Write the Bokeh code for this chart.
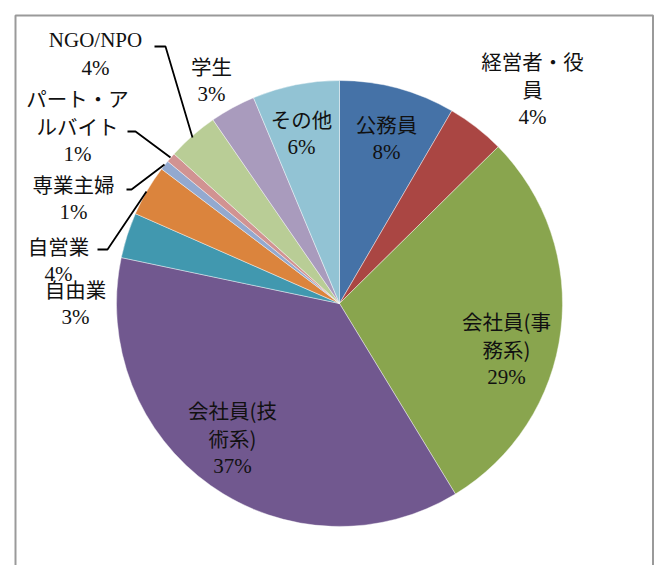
import numpy as np
from bokeh.plotting import figure
from bokeh.models import Range1d, ColumnDataSource
from bokeh.core.properties import value
from bokeh.embed import file_html
from bokeh.resources import INLINE

# ---------------- data ----------------
categories = ["公務員", "経営者・役員", "会社員(事務系)", "会社員(技術系)", "自由業",
              "自営業", "専業主婦", "パート・アルバイト", "NGO/NPO", "学生", "その他"]
shares = [8.4, 4.2, 28.7, 37.0, 3.3, 3.7, 0.7, 0.7, 3.7, 3.3, 6.3]
percent_labels = ["8%", "4%", "29%", "37%", "3%", "4%", "1%", "1%", "4%", "3%", "6%"]
colors = ["#4572A7", "#AA4643", "#89A54E", "#71588F", "#4198AF", "#DB843D",
          "#93A9CF", "#D19392", "#B9CD96", "#A99BBD", "#92C3D4"]

# ---------------- layout (page pixel coordinates) ----------------
CX, CY, R = 339, 303, 223
LINE_H = 28
label_pos = {
    "公務員": (386, 123),
    "経営者・役員": (532, 60),
    "会社員(事務系)": (506, 320),
    "会社員(技術系)": (232, 409),
    "自由業": (75, 288),
    "自営業": (58, 245),
    "専業主婦": (73, 183),
    "パート・アルバイト": (77, 97),
    "NGO/NPO": (95, 39),
    "学生": (211, 65),
    "その他": (301, 118),
}
leaders = {
    "NGO/NPO": [(154, 46), (165, 46), (192, 137)],
    "パート・アルバイト": [(127, 131), (135, 131), (170, 157)],
    "専業主婦": [(126, 189), (131, 189), (164, 164)],
    "自営業": [(97, 249), (107, 249), (146, 191)],
}


def Y(py):
    return -py


def wrap(name, width=5):
    if name.isascii():
        return [name]
    return [name[i:i + width] for i in range(0, len(name), width)]


p = figure(width=654, height=565, output_backend="svg", toolbar_location=None,
           x_range=Range1d(0, 654), y_range=Range1d(-565, 0), min_border=0)
p.axis.visible = False
p.grid.visible = False
p.outline_line_color = None
p.background_fill_color = "white"
p.border_fill_color = "white"

# frame
p.quad(left=[15], right=[652.5], top=[Y(15)], bottom=[Y(800)],
       fill_color=None, line_color="#9a9a9a", line_width=2)

# pie
frac = np.array(shares) / np.sum(shares)
cum = np.cumsum(frac)
before = np.concatenate([[0], cum[:-1]])
src = ColumnDataSource(dict(
    cat=categories,
    start=np.pi / 2 - 2 * np.pi * cum,
    end=np.pi / 2 - 2 * np.pi * before,
    color=colors,
))
p.wedge(x=CX, y=Y(CY), radius=R, radius_units="screen",
        start_angle="start", end_angle="end", fill_color="color",
        line_color="white", line_width=0.6, line_alpha=0.7, source=src)

# leader lines
for cat, pts in leaders.items():
    p.line([q[0] for q in pts], [Y(q[1]) for q in pts], line_color="black", line_width=1.8)

# labels
jp = dict(x=[], y=[], text=[])
lat = dict(x=[], y=[], text=[])
for cat, pct in zip(categories, percent_labels):
    x0, y0 = label_pos[cat]
    lines = wrap(cat) + [pct]
    for k, line in enumerate(lines):
        d = lat if line.isascii() else jp
        d["x"].append(x0)
        d["y"].append(Y(y0 + k * LINE_H))
        d["text"].append(line)

p.text(x="x", y="y", text="text", source=ColumnDataSource(jp),
       text_font=value("Noto Sans CJK JP"), text_font_size="20.5px",
       text_align="center", text_baseline="middle", text_color="#111111")
p.text(x="x", y="y", text="text", source=ColumnDataSource(lat),
       text_font=value("Liberation Serif"), text_font_size="21px",
       text_align="center", text_baseline="middle", text_color="#111111")

open("out.html", "w").write(file_html(p, INLINE))
